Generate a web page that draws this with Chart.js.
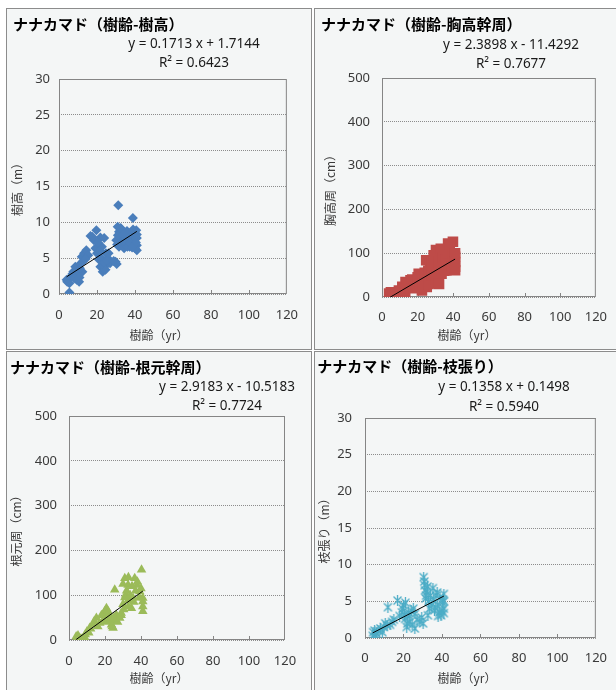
<!DOCTYPE html>
<html>
<head>
<meta charset="utf-8">
<script src="https://cdn.jsdelivr.net/npm/chart.js@4.4.1/dist/chart.umd.min.js"></script>
<style>
  body { margin: 0; background: #fff; width: 616px; height: 690px; overflow: hidden; position: relative; }
  .panel { position: absolute; width: 304px; height: 340px; border: 1px solid #8c8c8c; background: #f4f6f6; }
  .panel canvas { display: block; }
</style>
</head>
<body>
<div class="panel" style="left:6px;top:8px"><canvas id="c1" width="304" height="340"></canvas></div>
<div class="panel" style="left:314px;top:8px"><canvas id="c2" width="304" height="340"></canvas></div>
<div class="panel" style="left:6px;top:351px"><canvas id="c3" width="304" height="340"></canvas></div>
<div class="panel" style="left:314px;top:351px"><canvas id="c4" width="304" height="340"></canvas></div>
<script>
// tree age (yr) vs tree height (m)
const ageHeight = [4.0, 4.3, 5.5, 5.5, 6.3, 7.5, 8.6, 9.3, 10.3, 10.6, 11.5, 12.0, 13.2, 14.4, 12.3, 15.4, 16.6, 18.4, 19.7, 19.2,
  20.0, 21.0, 21.8, 23.0, 24.0, 21.8, 22.6, 24.7, 25.7, 26.9, 26.1, 30.4, 31.2, 30.9, 31.6, 32.1, 31.6, 33.3, 34.3, 35.5,
  36.4, 37.2, 38.1, 38.9, 39.5, 40.7, 41.0, 41.0, 41.0, 40.1, 30.2, 32.9, 34.6,
  7.0, 8.0, 9.5, 11.0, 12.8, 14.0, 10.8, 17.5, 20.5, 21.5, 22.3, 23.5, 24.5, 25.2, 23.8, 31.0, 32.5, 33.8, 35.0, 36.0,
  37.8, 39.0, 40.5, 41.0, 30.6, 29.8, 28.8, 35.8, 38.5];
const treeHeight = [2.0, 1.7, 0.2, 1.5, 2.4, 3.1, 3.8, 2.0, 2.7, 1.7, 4.3, 5.2, 5.7, 6.1, 3.1, 5.4, 8.1, 7.5, 8.9, 6.4,
  5.7, 4.8, 3.8, 3.1, 3.8, 7.9, 6.6, 5.7, 5.0, 4.3, 5.7, 4.2, 12.4, 9.4, 8.7, 7.8, 6.6, 7.1, 6.4, 8.5,
  7.5, 6.6, 8.2, 10.6, 7.3, 8.9, 7.8, 6.1, 6.8, 6.4, 7.5, 9.0, 7.8,
  2.8, 2.2, 3.3, 3.6, 4.6, 4.9, 2.3, 8.0, 7.2, 6.0, 5.0, 4.4, 3.4, 4.7, 7.8, 8.2, 9.2, 8.3, 7.0, 6.6,
  7.1, 9.0, 7.2, 8.3, 6.9, 4.5, 4.6, 8.8, 6.5];

// tree age vs girth at breast height (cm)
const ageBreast = [4.0, 5.0, 7.2, 9.5, 11.4, 10.5, 13.2, 16.0, 17.8, 20.6, 22.4, 22.4, 25.1, 24.8, 27.0, 27.3, 29.7, 30.3,
  31.0, 31.6, 33.4, 35.2, 36.1, 37.1, 39.8, 39.8, 41.0, 41.0, 41.0, 38.0, 5.0, 8.3, 14.1, 19.6, 23.3, 33.4,
  6.0, 8.0, 10.0, 12.0, 13.0, 15.0, 17.0, 18.0, 20.0, 21.0, 23.0, 24.0, 26.0, 26.0, 28.0, 28.0, 29.0, 31.0,
  32.0, 33.0, 34.0, 35.0, 36.0, 37.0, 38.0, 39.0, 40.0, 40.0, 41.0, 41.0, 30.0, 32.0];
const breastGirth = [7.6, 0, 7.6, 15, 23, 0, 34, 38, 31, 53, 46, 15, 23, 84, 76, 42, 31, 107,
  88, 69, 53, 76, 61, 122, 126, 92, 92, 69, 61, 76, 11, 4, 27, 38, 38, 99,
  3, 10, 12, 18, 8, 30, 40, 20, 45, 30, 25, 55, 60, 30, 50, 80, 95, 50,
  80, 110, 90, 60, 85, 100, 120, 70, 80, 100, 100, 80, 40, 30];

// tree age vs girth at root (cm)
const ageRoot = [4.0, 4.1, 5.9, 8.7, 10.0, 11.5, 13.4, 15.2, 17.1, 19.9, 20.8, 22.6, 23.6, 25.4, 25.4, 26.3, 28.2, 30.4,
  31.0, 31.5, 32.8, 32.8, 34.7, 35.6, 36.5, 37.8, 39.3, 40.3, 41.0, 41.0, 41.0, 24.5, 18.9, 21.7, 7.0,
  5.0, 6.0, 9.0, 11.0, 12.0, 14.0, 16.0, 18.0, 20.0, 21.0, 22.0, 23.0, 24.0, 25.0, 27.0, 29.0, 30.0, 31.0,
  32.0, 33.0, 34.0, 35.0, 36.0, 37.0, 38.0, 39.0, 40.0, 41.0, 33.0, 30.0, 29.0];
const rootGirth = [8, 1, 4.5, 6, 19, 27, 34, 49, 38, 64, 71, 53, 34, 112, 42, 56, 49, 68,
  138, 101, 89, 123, 71, 94, 138, 123, 108, 157, 94, 64, 86, 27, 42, 64, 2,
  10, 2, 12, 16, 25, 42, 30, 55, 50, 40, 60, 45, 30, 50, 40, 55, 80, 95,
  110, 75, 100, 120, 85, 110, 130, 95, 115, 75, 140, 125, 60];

// tree age vs crown spread (m)
const ageCrown = [4.0, 4.2, 5.6, 7.3, 9.8, 11.5, 11.9, 14.1, 16.9, 19.2, 20.0, 20.8, 21.7, 22.5, 23.4, 25.1, 25.9, 28.5,
  30.2, 30.5, 31.0, 31.5, 32.2, 33.6, 35.3, 36.9, 37.8, 38.6, 39.5, 40.3, 41.0, 41.0, 41.0, 32.7, 36.1,
  5.0, 6.0, 8.0, 9.0, 10.5, 13.0, 15.0, 18.0, 19.5, 20.5, 21.0, 22.0, 23.0, 24.0, 24.5, 26.0, 27.0,
  30.8, 31.2, 31.8, 32.5, 33.0, 34.0, 34.5, 35.5, 36.5, 37.5, 38.0, 39.0, 40.0, 40.5, 41.0, 29.5];
const crownSpread = [0.3, 0.8, 0.4, 1.0, 1.5, 1.7, 4.2, 2.2, 5.1, 3.5, 4.5, 2.6, 1.5, 3.5, 2.2, 4.0, 1.3, 2.2,
  2.0, 8.3, 7.2, 5.4, 6.3, 4.0, 6.8, 5.8, 4.5, 3.5, 3.1, 4.9, 6.0, 4.0, 3.4, 3.1, 3.8,
  1.0, 0.6, 1.3, 0.8, 2.0, 1.8, 2.5, 3.0, 4.0, 3.2, 4.8, 2.0, 3.0, 3.7, 1.8, 3.3, 2.5,
  7.7, 6.5, 5.8, 7.0, 5.0, 5.8, 4.5, 5.2, 4.2, 6.2, 3.0, 5.5, 3.7, 5.2, 5.0, 2.8];

// trendline coefficients and R²
const slopes = [0.1713, 2.3898, 2.9183, 0.1358];
const intercepts = [1.7144, -11.4292, -10.5183, 0.1498];
const rSquared = ['0.6423', '0.7677', '0.7724', '0.5940'];

const titles = ['ナナカマド（樹齢-樹高）', 'ナナカマド（樹齢-胸高幹周）', 'ナナカマド（樹齢-根元幹周）', 'ナナカマド（樹齢-枝張り）'];
const yTitles = ['樹高（m）', '胸高周（cm）', '根元周（cm）', '枝張り（m）'];
const xTitle = '樹齢（yr）';
const yMax = [30, 500, 500, 30];
const yStep = [5, 100, 100, 5];

Chart.defaults.font.family = '"Noto Sans", "Noto Sans CJK JP", sans-serif';
Chart.defaults.color = '#3a3a3a';

function starMarker(color) {
  const c = document.createElement('canvas');
  c.width = 11; c.height = 11;
  const g = c.getContext('2d');
  g.strokeStyle = color;
  g.lineWidth = 1.3;
  g.beginPath();
  g.moveTo(1.5, 1.5); g.lineTo(9.5, 9.5);
  g.moveTo(9.5, 1.5); g.lineTo(1.5, 9.5);
  g.moveTo(5.5, 0); g.lineTo(5.5, 11);
  g.stroke();
  return c;
}

// plot frame, inner x ticks, equation text and x axis title
const panelText = {
  id: 'panelText',
  beforeDatasetsDraw(chart, args, opts) {
    const { ctx, chartArea: a, scales: { x } } = chart;
    ctx.save();
    ctx.strokeStyle = '#858585';
    ctx.lineWidth = 1;
    ctx.strokeRect(a.left + 0.5, a.top + 0.5, a.right - a.left - 1, a.bottom - a.top - 1);
    ctx.beginPath();
    x.ticks.forEach(t => {
      if (t.value <= x.min || t.value >= x.max) return;
      const px = Math.round(x.getPixelForValue(t.value)) + 0.5;
      ctx.moveTo(px, a.bottom);
      ctx.lineTo(px, a.bottom - 4);
    });
    ctx.stroke();
    ctx.restore();
  },
  afterDraw(chart, args, opts) {
    const ctx = chart.ctx;
    ctx.save();
    ctx.fillStyle = '#1a1a1a';
    ctx.textAlign = 'center';
    ctx.textBaseline = 'middle';
    ctx.font = '13.5px "Noto Sans", sans-serif';
    ctx.fillText(opts.eq, opts.eqX, opts.eqY);
    ctx.fillText(opts.r2, opts.eqX, opts.eqY + 19.5);
    ctx.fillStyle = '#3a3a3a';
    ctx.font = '12px "Noto Sans CJK JP", sans-serif';
    ctx.fillText(xTitle, 152, 326);
    ctx.restore();
  }
};

function makePanel(id, i, ages, vals, mark, g) {
  const points = ages.map((a, k) => ({ x: a, y: vals[k] }));
  const lo = Math.min(...ages), hi = Math.max(...ages);
  const trend = [lo, hi].map(a => ({ x: a, y: slopes[i] * a + intercepts[i] }));
  const b = intercepts[i];
  const eq = 'y = ' + slopes[i].toFixed(4) + ' x ' + (b < 0 ? '- ' : '+ ') + Math.abs(b).toFixed(4);

  new Chart(document.getElementById(id), {
    type: 'scatter',
    data: {
      datasets: [
        { data: trend, showLine: true, borderColor: '#000', borderWidth: 1, pointRadius: 0, order: 0 },
        Object.assign({ data: points, order: 1, pointBorderWidth: 0 }, mark)
      ]
    },
    options: {
      responsive: false,
      animation: false,
      layout: { padding: { left: g.titleX, top: 0, right: 304 - g.r, bottom: 340 - g.b - 30 } },
      plugins: {
        legend: { display: false },
        tooltip: { enabled: false },
        title: {
          display: true, text: titles[i], align: 'start', color: '#000',
          font: { family: '"Noto Sans CJK JP", sans-serif', size: 15, weight: 'bold', lineHeight: 1 },
          padding: { top: g.titleY - 7.5, bottom: g.t - g.titleY - 7.5 }
        },
        panelText: { eq: eq, r2: 'R² = ' + rSquared[i], eqX: g.eqX, eqY: g.eqY }
      },
      scales: {
        x: {
          type: 'linear', min: 0, max: 120,
          afterFit: s => { s.height = 30; },
          grid: { display: false, drawTicks: false },
          border: { display: false },
          ticks: { stepSize: 20, padding: g.xPad, font: { size: 13 } }
        },
        y: {
          type: 'linear', min: 0, max: yMax[i],
          afterFit: s => { s.width = g.l - g.titleX; },
          grid: { color: '#8c8c8c', lineWidth: 1, drawTicks: false },
          border: { display: false, dash: [1, 1] },
          ticks: { stepSize: yStep[i], padding: g.yPad, font: { size: 13 } },
          title: {
            display: true, text: yTitles[i],
            font: { family: '"Noto Sans CJK JP", sans-serif', size: 12, lineHeight: 1 },
            padding: { top: g.ytX - g.titleX - 6, bottom: 0 }
          }
        }
      }
    },
    plugins: [panelText]
  });
}

makePanel('c1', 0, ageHeight, treeHeight,
  { pointStyle: 'rectRot', pointRadius: 5, pointBackgroundColor: '#4a7ebb' },
  { l: 52, t: 70, r: 286, b: 285, titleX: 6, titleY: 15, eqX: 187, eqY: 35, ytX: 10.3, yPad: 9, xPad: 13 });
makePanel('c2', 1, ageBreast, breastGirth,
  { pointStyle: 'rect', pointRadius: 7.5, pointBackgroundColor: '#be4b48' },
  { l: 67, t: 69, r: 285, b: 288, titleX: 6, titleY: 15, eqX: 196, eqY: 36, ytX: 15.7, yPad: 12, xPad: 12 });
makePanel('c3', 2, ageRoot, rootGirth,
  { pointStyle: 'triangle', pointRadius: 5.5, pointBackgroundColor: '#9bbb59' },
  { l: 62, t: 64, r: 278, b: 288, titleX: 3, titleY: 15.7, eqX: 220, eqY: 34.7, ytX: 9.7, yPad: 12, xPad: 13 });
makePanel('c4', 3, ageCrown, crownSpread,
  { pointStyle: starMarker('#4bacc6'), pointRadius: 5 },
  { l: 50, t: 66, r: 286, b: 286, titleX: 2.3, titleY: 14.7, eqX: 189, eqY: 35.3, ytX: 9.7, yPad: 13, xPad: 12 });
</script>
</body>
</html>
